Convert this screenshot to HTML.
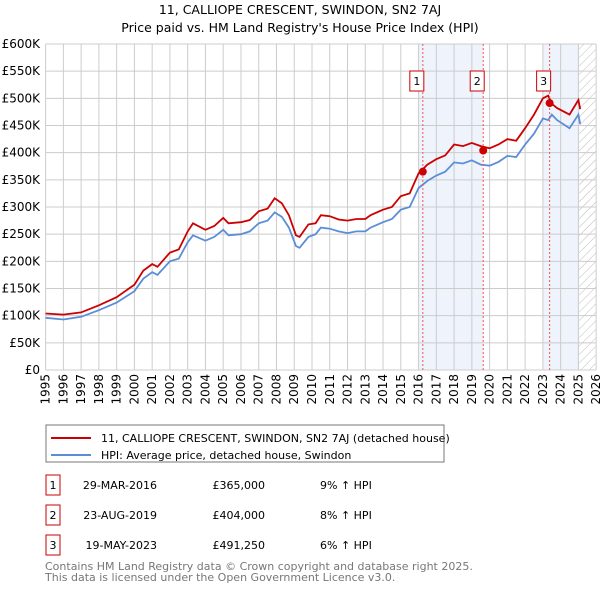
<!DOCTYPE html>
<html><head><meta charset="utf-8"><style>
body{margin:0;background:#fff;font-family:"Liberation Sans","DejaVu Sans",sans-serif;}
svg text{font-family:"DejaVu Sans","Liberation Sans",sans-serif;}
</style></head><body>
<svg id="c" width="600" height="590" xmlns="http://www.w3.org/2000/svg">
<defs><pattern id="hatch" width="6" height="6" patternUnits="userSpaceOnUse" patternTransform="rotate(45)"><line x1="0" y1="0" x2="0" y2="6" stroke="#bbb" stroke-width="1"/></pattern></defs>
<text x="300" y="14" text-anchor="middle" font-size="12.5">11, CALLIOPE CRESCENT, SWINDON, SN2 7AJ</text>
<text x="300" y="32" text-anchor="middle" font-size="12.5">Price paid vs. HM Land Registry's House Price Index (HPI)</text>
<g id="plot"></g>
<g>
<rect x="46" y="425" width="398" height="37" fill="#fff" stroke="#777"/>
<line x1="51" y1="438" x2="91" y2="438" stroke="#cc0000" stroke-width="2"/>
<text x="101" y="442" font-size="11">11, CALLIOPE CRESCENT, SWINDON, SN2 7AJ (detached house)</text>
<line x1="51" y1="455" x2="91" y2="455" stroke="#5b8ed6" stroke-width="2"/>
<text x="101" y="459" font-size="11">HPI: Average price, detached house, Swindon</text>
</g>
<g id="table" font-size="11"></g>
<text x="45" y="570" font-size="11" fill="#777">Contains HM Land Registry data © Crown copyright and database right 2025.</text>
<text x="45" y="581" font-size="11" fill="#777">This data is licensed under the Open Government Licence v3.0.</text>
</svg>
<script>
const hpiYears=[1995,1996,1997,1998,1999,2000,2000.5,2001,2001.3,2002,2002.5,2003,2003.3,2004,2004.5,2005,2005.3,2006,2006.5,2007,2007.5,2007.9,2008.3,2008.7,2009.1,2009.3,2009.8,2010.2,2010.5,2011,2011.5,2012,2012.5,2013,2013.3,2014,2014.5,2015,2015.5,2016,2016.5,2017,2017.5,2018,2018.5,2019,2019.5,2020,2020.5,2021,2021.5,2022,2022.5,2023,2023.3,2023.5,2023.8,2024.5,2025,2025.1];
const hpiValues=[96,93,98,110,124,145,168,180,175,200,205,235,248,238,245,258,248,250,255,270,275,290,282,262,228,225,245,250,262,260,255,252,255,255,262,272,278,295,300,335,348,358,365,382,380,386,378,376,383,394,392,415,435,463,460,470,460,445,470,453];
const priceValues=[104,102,106,119,134,157,183,195,190,216,222,255,270,258,265,280,270,272,276,292,297,316,307,285,248,245,268,270,285,283,277,275,278,278,285,295,300,320,325,362,378,388,395,415,412,418,412,408,415,425,422,445,470,500,505,490,482,470,497,480];
const saleYears=[2016.24,2019.64,2023.38];
const saleValues=[365,404,491.25];
const saleLabels=["1","2","3"];
const saleDates=["29-MAR-2016","23-AUG-2019","19-MAY-2023"];
const salePrices=["£365,000","£404,000","£491,250"];
const saleHpi=["9% ↑ HPI","8% ↑ HPI","6% ↑ HPI"];
const yTicks=[0,50,100,150,200,250,300,350,400,450,500,550,600];
const xTicks=[1995,1996,1997,1998,1999,2000,2001,2002,2003,2004,2005,2006,2007,2008,2009,2010,2011,2012,2013,2014,2015,2016,2017,2018,2019,2020,2021,2022,2023,2024,2025,2026];
const NS="http://www.w3.org/2000/svg";
const X=y=>45.6+(y-1995)*17.76, Y=v=>370-v*(326/600);
const g=document.getElementById('plot');
function mk(t,a,p){const e=document.createElementNS(NS,t);for(const k in a)e.setAttribute(k,a[k]);(p||g).appendChild(e);return e;}
let e;
e=mk('rect',{x:X(2016),y:Y(600),width:X(saleYears[1])-X(2016),height:Y(0)-Y(600),fill:'#eef3fc'});


e=mk('rect',{x:X(2023),y:Y(600),width:X(2025.05)-X(2023),height:Y(0)-Y(600),fill:'#eef3fc'});


e=mk('rect',{x:X(2025.05),y:Y(600),width:X(2026)-X(2025.05),height:Y(0)-Y(600),fill:'url(#hatch)'});


yTicks.forEach(v=>{
 e=mk('line',{x1:X(1995),x2:X(2026),y1:Y(v),y2:Y(v),stroke:'#ccc'});
 
 
 e=mk('text',{x:40,y:Y(v)+4,'text-anchor':'end','font-size':12});
 e.textContent=v===0?'£0':'£'+v+'K';
 
 
});
xTicks.forEach(y=>{
 e=mk('line',{x1:X(y),x2:X(y),y1:Y(0),y2:Y(600),stroke:'#ccc'});
 
 
 e=mk('text',{x:X(y)+4,y:374,'text-anchor':'end','font-size':12,transform:`rotate(-90 ${X(y)+4} 374)`});
 e.textContent=y;
 
 
});
function path(vals){return hpiYears.map((y,i)=>(i?'L':'M')+X(y).toFixed(1)+','+Y(vals[i]).toFixed(1)).join('');}
e=mk('path',{d:path(hpiValues),fill:'none',stroke:'#5b8ed6','stroke-width':1.8});


e=mk('path',{d:path(priceValues),fill:'none',stroke:'#cc0000','stroke-width':1.8});


saleYears.forEach((y,i)=>{
 e=mk('line',{x1:X(y),x2:X(y),y1:Y(0),y2:Y(600),stroke:'#e55','stroke-dasharray':'2,2'});
 
 
 e=mk('circle',{cx:X(y),cy:Y(saleValues[i]),r:4,fill:'#cc0000'});
 
 
 e=mk('rect',{x:X(y)-13,y:71,width:14,height:20,fill:'#fff',stroke:'#cc0000'});
 
 
 e=mk('text',{x:X(y)-6,y:85,'text-anchor':'middle','font-size':11});
 e.textContent=saleLabels[i];
 
 
});
const t=document.getElementById('table');
saleYears.forEach((y,i)=>{
 const ry=475+i*30;
 e=mk('rect',{x:46,y:ry,width:14,height:20,fill:'#fff',stroke:'#cc0000'},t);
 
 
 e=mk('text',{x:53,y:ry+14,'text-anchor':'middle'},t);e.textContent=saleLabels[i];
 
 
 e=mk('text',{x:157,y:ry+14,'text-anchor':'end'},t);e.textContent=saleDates[i];
 
 
 e=mk('text',{x:265,y:ry+14,'text-anchor':'end'},t);e.textContent=salePrices[i];
 
 
 e=mk('text',{x:320,y:ry+14},t);e.textContent=saleHpi[i];
 
 
});
</script>
</body></html>
